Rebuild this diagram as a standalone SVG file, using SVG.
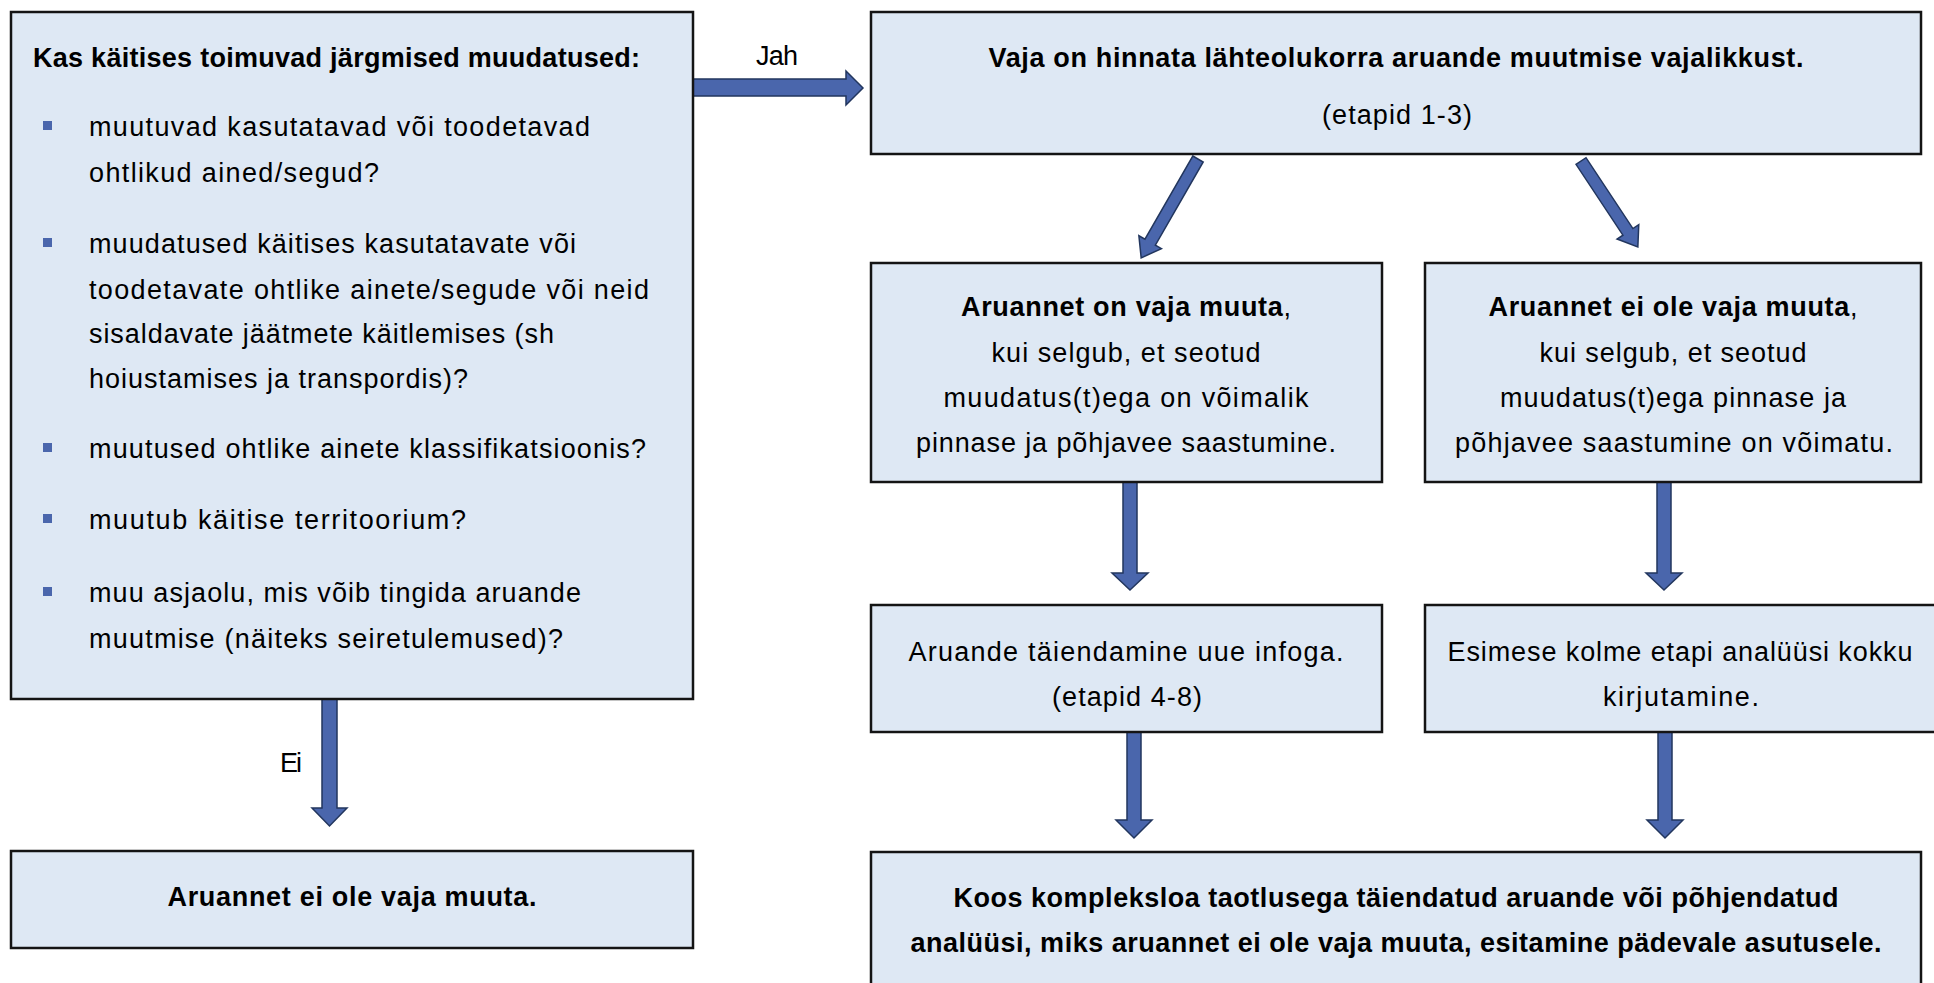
<svg xmlns="http://www.w3.org/2000/svg" width="1934" height="983" viewBox="0 0 1934 983">
<style>
.box{fill:#dee8f4;stroke:#141414;stroke-width:2.5}
.arr{fill:#4a66ac;stroke:#22365e;stroke-width:1.5;stroke-linejoin:miter}
.t{font-family:"Liberation Sans",Arial,sans-serif;font-size:27px;fill:#000}
.b{font-weight:bold}
.c{text-anchor:middle}
.bul{fill:#4a66ac}
</style>
<rect width="1934" height="983" fill="#fff"/>
<g id="connectors">
  <polygon class="arr" points="693,79 846,79 846,71 863,88 846,105 846,96 693,96"/>
  <text class="t c" x="777" y="65" textLength="42">Jah</text>
  <polygon class="arr" points="322,699 337,699 337,808 347,808 329.5,826 312,808 322,808"/>
  <text class="t c" x="291" y="772" textLength="22">Ei</text>
  <polygon class="arr" transform="translate(1198,159) rotate(29.9)" points="-6,0 6,0 6,96 13,96 0,114 -13,96 -6,96"/>
  <polygon class="arr" transform="translate(1581,161) rotate(-33.5)" points="-6,0 6,0 6,85 13,85 0,103 -13,85 -6,85"/>
  <polygon class="arr" points="1123,482 1137,482 1137,573 1148,573 1130,590 1112,573 1123,573"/>
  <polygon class="arr" points="1657,482 1671,482 1671,573 1682,573 1664,590 1646,573 1657,573"/>
  <polygon class="arr" points="1127,732 1141,732 1141,820 1152,820 1134,838 1116,820 1127,820"/>
  <polygon class="arr" points="1658,732 1672,732 1672,820 1683,820 1665,838 1647,820 1658,820"/>
</g>
<g id="n_question">
  <rect class="box" x="11" y="12" width="682" height="687"/>
  <text class="t b" x="33" y="67" textLength="607">Kas käitises toimuvad järgmised muudatused:</text>
  <rect class="bul" x="43" y="121" width="9" height="9"/>
  <text class="t" x="89" y="136" textLength="501">muutuvad kasutatavad või toodetavad</text>
  <text class="t" x="89" y="182" textLength="290">ohtlikud ained/segud?</text>
  <rect class="bul" x="43" y="238" width="9" height="9"/>
  <text class="t" x="89" y="253" textLength="487">muudatused käitises kasutatavate või</text>
  <text class="t" x="89" y="299" textLength="560">toodetavate ohtlike ainete/segude või neid</text>
  <text class="t" x="89" y="343" textLength="465">sisaldavate jäätmete käitlemises (sh</text>
  <text class="t" x="89" y="388" textLength="379">hoiustamises ja transpordis)?</text>
  <rect class="bul" x="43" y="443" width="9" height="9"/>
  <text class="t" x="89" y="458" textLength="557">muutused ohtlike ainete klassifikatsioonis?</text>
  <rect class="bul" x="43" y="514" width="9" height="9"/>
  <text class="t" x="89" y="529" textLength="377">muutub käitise territoorium?</text>
  <rect class="bul" x="43" y="587" width="9" height="9"/>
  <text class="t" x="89" y="602" textLength="492">muu asjaolu, mis võib tingida aruande</text>
  <text class="t" x="89" y="648" textLength="474">muutmise (näiteks seiretulemused)?</text>
</g>
<g id="n_no_change_left">
  <rect class="box" x="11" y="851" width="682" height="97"/>
  <text class="t b c" x="352" y="906" textLength="369">Aruannet ei ole vaja muuta.</text>
</g>
<g id="n_assess">
  <rect class="box" x="871" y="12" width="1050" height="142"/>
  <text class="t b c" x="1396" y="67" textLength="815">Vaja on hinnata lähteolukorra aruande muutmise vajalikkust.</text>
  <text class="t c" x="1397" y="124" textLength="150">(etapid 1-3)</text>
</g>
<g id="n_must_change">
  <rect class="box" x="871" y="263" width="511" height="219"/>
  <text class="t c" x="1126" y="316" textLength="330"><tspan class="b">Aruannet on vaja muuta</tspan>,</text>
  <text class="t c" x="1126" y="362" textLength="269">kui selgub, et seotud</text>
  <text class="t c" x="1126" y="407" textLength="365">muudatus(t)ega on võimalik</text>
  <text class="t c" x="1126" y="452" textLength="420">pinnase ja põhjavee saastumine.</text>
</g>
<g id="n_no_change_right">
  <rect class="box" x="1425" y="263" width="496" height="219"/>
  <text class="t c" x="1673" y="316" textLength="369"><tspan class="b">Aruannet ei ole vaja muuta</tspan>,</text>
  <text class="t c" x="1673" y="362" textLength="267">kui selgub, et seotud</text>
  <text class="t c" x="1673" y="407" textLength="346">muudatus(t)ega pinnase ja</text>
  <text class="t c" x="1674" y="452" textLength="438">põhjavee saastumine on võimatu.</text>
</g>
<g id="n_supplement">
  <rect class="box" x="871" y="605" width="511" height="127"/>
  <text class="t c" x="1126" y="661" textLength="435">Aruande täiendamine uue infoga.</text>
  <text class="t c" x="1127" y="706" textLength="150">(etapid 4-8)</text>
</g>
<g id="n_summary">
  <rect class="box" x="1425" y="605" width="530" height="127"/>
  <text class="t c" x="1680" y="661" textLength="465">Esimese kolme etapi analüüsi kokku</text>
  <text class="t c" x="1681" y="706" textLength="156">kirjutamine.</text>
</g>
<g id="n_submit">
  <rect class="box" x="871" y="852" width="1050" height="150"/>
  <text class="t b c" x="1396" y="907" textLength="885">Koos kompleksloa taotlusega täiendatud aruande või põhjendatud</text>
  <text class="t b c" x="1396" y="952" textLength="971">analüüsi, miks aruannet ei ole vaja muuta, esitamine pädevale asutusele.</text>
</g>
</svg>
